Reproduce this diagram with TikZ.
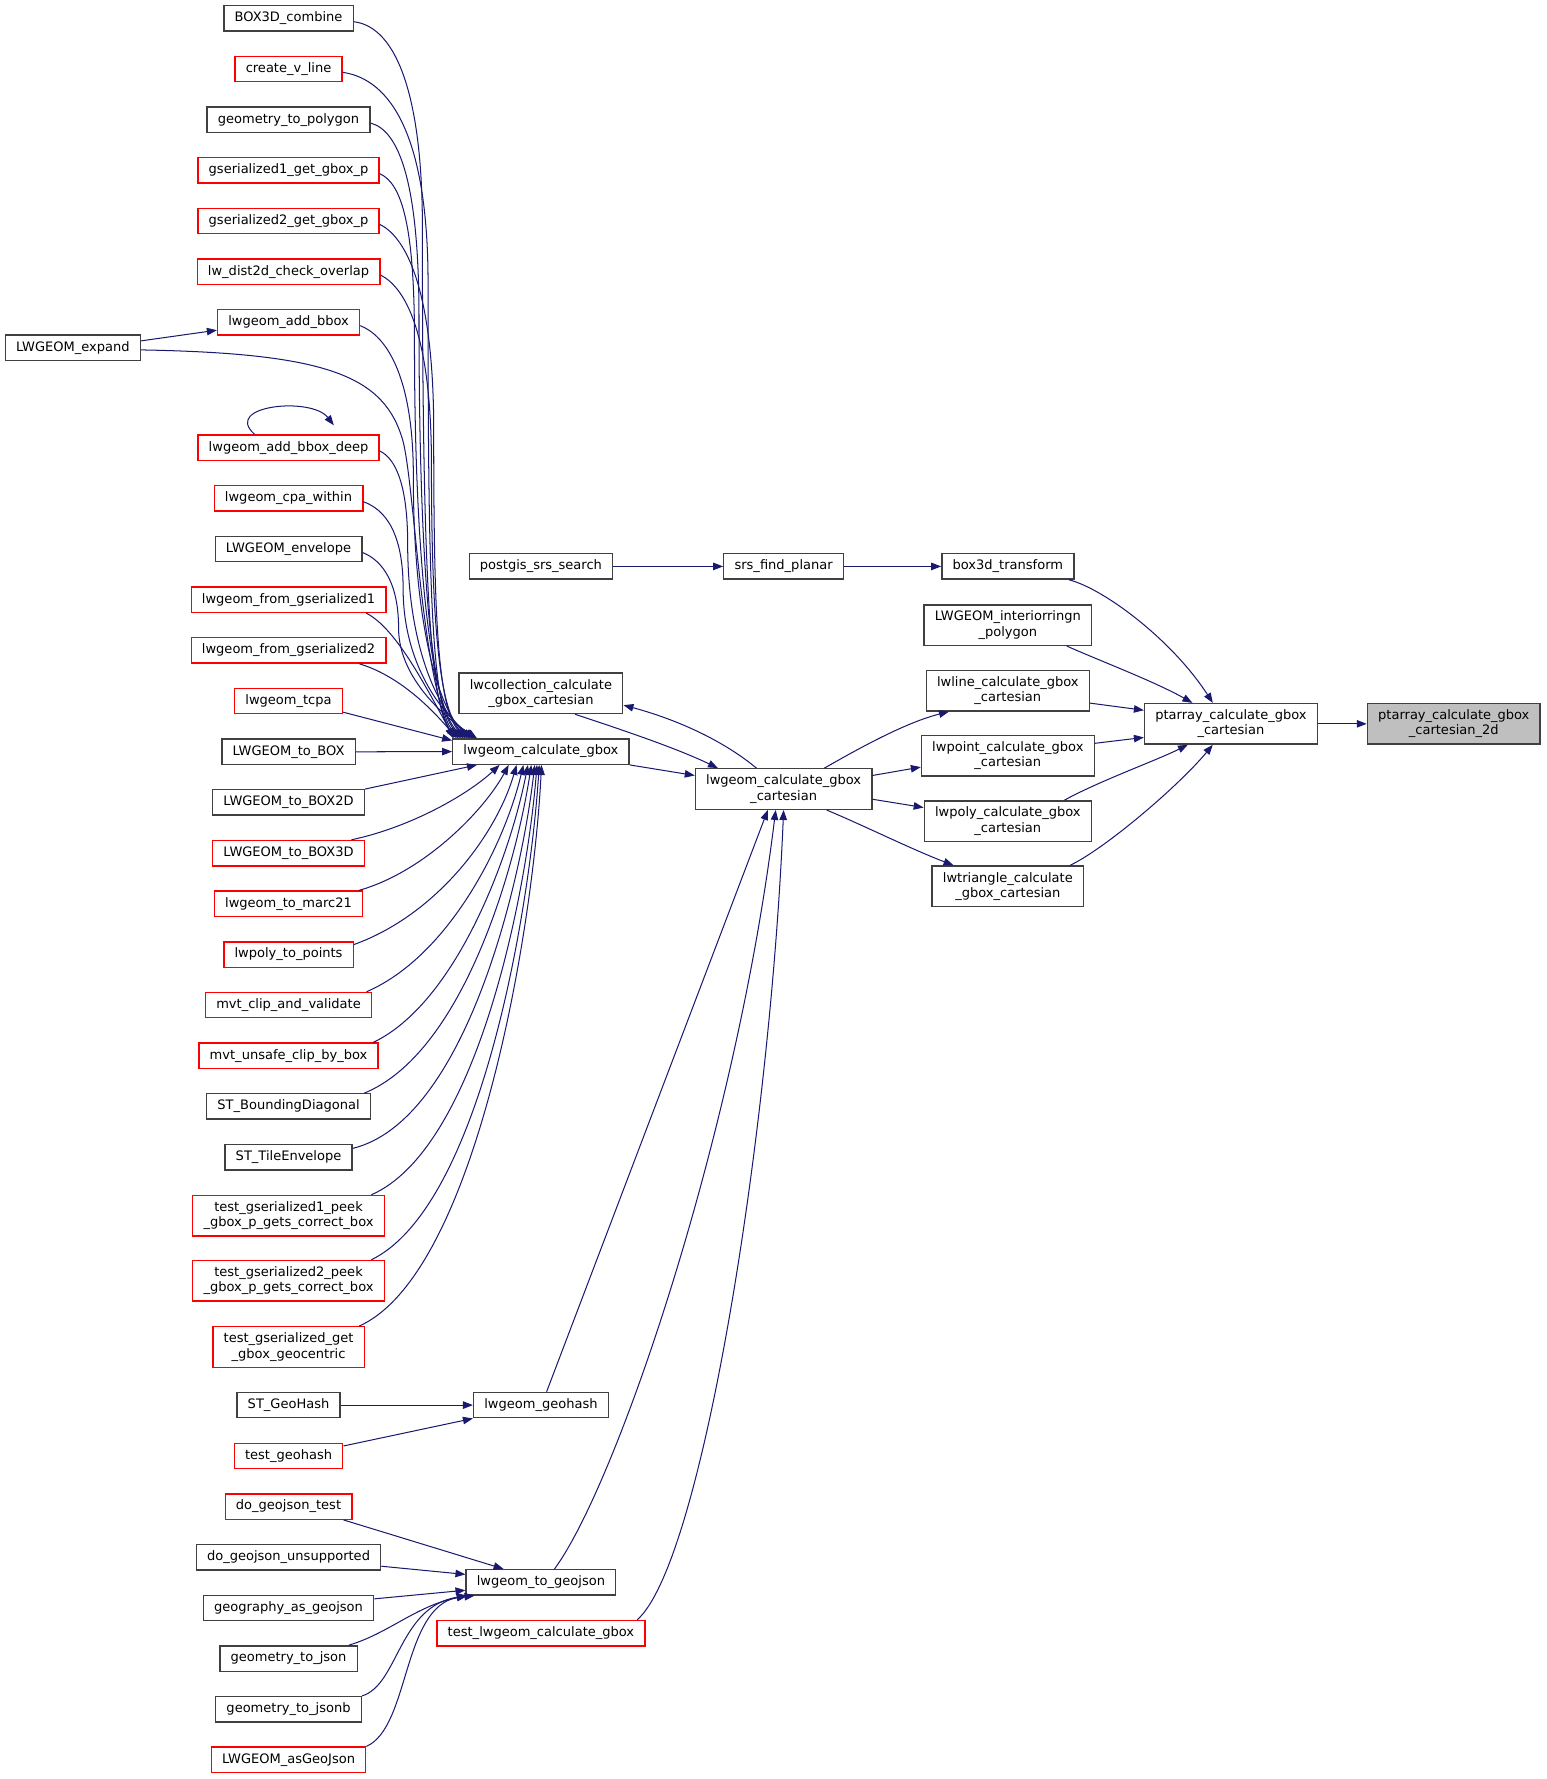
\documentclass[tikz,border=0pt]{standalone}
\usepackage{fontspec}
\setmainfont{DejaVu Sans}
\usetikzlibrary{arrows.meta}
\definecolor{edgeblue}{HTML}{191970}
\definecolor{boxgray}{HTML}{404040}
\definecolor{rootfill}{HTML}{BFBFBF}
\newcommand{\fnfont}{\fontsize{11.5}{13.4}\selectfont}
\tikzset{
	fn/.style={draw=boxgray, line width=1.2pt, fill=white, font=\fnfont, inner xsep=9.5pt, inner ysep=5.6pt, text height=8.6pt, text depth=2.6pt},
	fnred/.style={fn, draw=red},
	fntwo/.style={draw=boxgray, line width=1.2pt, fill=white, font=\fnfont, inner xsep=9.5pt, inner ysep=3pt, minimum height=35.8pt, align=center},
	fntwored/.style={fntwo, draw=red},
	fnroot/.style={fntwo, fill=rootfill},
	call/.style={draw=edgeblue, line width=0.9pt, -{Triangle[length=8.8pt,width=6.6pt]}}
}

\begin{document}
\begin{tikzpicture}[x=1pt, y=-1pt]
		\useasboundingbox (0,0) rectangle (1366,1571);
		% callers of lwgeom_calculate_gbox
		\node[fn] (box3dcomb) at (254.8,16.2) {BOX3D\_combine};
		\node[fnred] (createvline) at (254.8,60.9) {create\_v\_line};
		\node[fn] (geomtopoly) at (254.8,105.7) {geometry\_to\_polygon};
		\node[fnred] (gsergbox1) at (254.8,150.4) {gserialized1\_get\_gbox\_p};
		\node[fnred] (gsergbox2) at (254.8,195.2) {gserialized2\_get\_gbox\_p};
		\node[fnred] (distcheck) at (254.8,239.9) {lw\_dist2d\_check\_overlap};
		\node[fnred] (addbbox) at (254.8,284.6) {lwgeom\_add\_bbox};
		\node[fn] (expand) at (64.4,307) {LWGEOM\_expand};
		\node[fnred] (addbboxdeep) at (254.8,395.3) {lwgeom\_add\_bbox\_deep};
		\node[fnred] (cpawithin) at (254.8,440.1) {lwgeom\_cpa\_within};
		\node[fn] (envelope) at (254.8,484.9) {LWGEOM\_envelope};
		\node[fnred] (fromgser1) at (254.8,529.6) {lwgeom\_from\_gserialized1};
		\node[fnred] (fromgser2) at (254.8,574.4) {lwgeom\_from\_gserialized2};
		\node[fnred] (tcpa) at (254.8,619.1) {lwgeom\_tcpa};
		\node[fn] (tobox) at (254.8,663.9) {LWGEOM\_to\_BOX};
		\node[fn] (tobox2d) at (254.8,708.6) {LWGEOM\_to\_BOX2D};
		\node[fnred] (tobox3d) at (254.8,753.4) {LWGEOM\_to\_BOX3D};
		\node[fnred] (tomarc) at (254.8,798.1) {lwgeom\_to\_marc21};
		\node[fnred] (polypoints) at (254.8,842.9) {lwpoly\_to\_points};
		\node[fnred] (mvtclip) at (254.8,887.6) {mvt\_clip\_and\_validate};
		\node[fnred] (mvtunsafe) at (254.8,932.4) {mvt\_unsafe\_clip\_by\_box};
		\node[fn] (bounddiag) at (254.8,977.1) {ST\_BoundingDiagonal};
		\node[fn] (tileenv) at (254.8,1021.9) {ST\_TileEnvelope};
		\node[fntwored] (testgser1) at (254.8,1073.6) {test\_gserialized1\_peek\\\_gbox\_p\_gets\_correct\_box};
		\node[fntwored] (testgser2) at (254.8,1131) {test\_gserialized2\_peek\\\_gbox\_p\_gets\_correct\_box};
		\node[fntwored] (testgeocent) at (254.8,1189.5) {test\_gserialized\_get\\\_gbox\_geocentric};
		% callers of lwgeom_geohash and lwgeom_to_geojson
		\node[fn] (stgeohash) at (254.8,1240.8) {ST\_GeoHash};
		\node[fnred] (testgeohash) at (254.8,1285.7) {test\_geohash};
		\node[fnred] (dogeojsontest) at (254.8,1330.4) {do\_geojson\_test};
		\node[fn] (dogeojsonunsup) at (254.8,1375.1) {do\_geojson\_unsupported};
		\node[fn] (geogasgeojson) at (254.8,1419.9) {geography\_as\_geojson};
		\node[fn] (geomtojson) at (254.8,1464.6) {geometry\_to\_json};
		\node[fn] (geomtojsonb) at (254.8,1509.4) {geometry\_to\_jsonb};
		\node[fnred] (asgeojson) at (254.8,1554) {LWGEOM\_asGeoJson};
		% middle
		\node[fn] (srssearch) at (477.7,500.2) {postgis\_srs\_search};
		\node[fntwo] (lwcollcart) at (477.7,612.2) {lwcollection\_calculate\\\_gbox\_cartesian};
		\node[fn] (calcgbox) at (477.7,663.7) {lwgeom\_calculate\_gbox};
		\node[fn] (geohash) at (477.7,1240.8) {lwgeom\_geohash};
		\node[fn] (togeojson) at (477.7,1397.3) {lwgeom\_to\_geojson};
		\node[fnred] (testcalcgbox) at (477.7,1442.2) {test\_lwgeom\_calculate\_gbox};
		\node[fn] (srsplanar) at (692,500.2) {srs\_find\_planar};
		\node[fntwo] (calccart) at (692,696.8) {lwgeom\_calculate\_gbox\\\_cartesian};
		\node[fn] (box3dtrans) at (890,500.2) {box3d\_transform};
		\node[fntwo] (interiorring) at (890,552) {LWGEOM\_interiorringn\\\_polygon};
		\node[fntwo] (linecart) at (890,609.9) {lwline\_calculate\_gbox\\\_cartesian};
		\node[fntwo] (pointcart) at (890,667.4) {lwpoint\_calculate\_gbox\\\_cartesian};
		\node[fntwo] (polycart) at (890,725.1) {lwpoly\_calculate\_gbox\\\_cartesian};
		\node[fntwo] (trianglecart) at (890,782.6) {lwtriangle\_calculate\\\_gbox\_cartesian};
		\node[fntwo] (ptarraycart) at (1087,639.2) {ptarray\_calculate\_gbox\\\_cartesian};
		\node[fnroot] (ptarray2d) at (1283.8,639.2) {ptarray\_calculate\_gbox\\\_cartesian\_2d};

		% edges into lwgeom_calculate_gbox from above
		\draw[call] ([yshift=-3pt]box3dcomb.east) .. controls (352,24) and (373,90) .. (373,200) .. controls (373,480) and (378,628) .. ([xshift=6pt]calcgbox.north west);
		\draw[call] ([yshift=-3pt]createvline.east) .. controls (345,70) and (378,120) .. (378,250) .. controls (378,500) and (380,628) .. ([xshift=8pt]calcgbox.north west);
		\draw[call] ([yshift=-3pt]geomtopoly.east) .. controls (352,115) and (370,160) .. (370,280) .. controls (370,510) and (382,628) .. ([xshift=10pt]calcgbox.north west);
		\draw[call] ([yshift=-3pt]gsergbox1.east) .. controls (355,162) and (366,200) .. (366,300) .. controls (366,520) and (384,630) .. ([xshift=12pt]calcgbox.north west);
		\draw[call] ([yshift=-3pt]gsergbox2.east) .. controls (360,210) and (383,260) .. (383,380) .. controls (383,540) and (386,630) .. ([xshift=14pt]calcgbox.north west);
		\draw[call] ([yshift=-3pt]distcheck.east) .. controls (360,255) and (381,300) .. (381,410) .. controls (381,550) and (388,632) .. ([xshift=16pt]calcgbox.north west);
		\draw[call] ([yshift=-3pt]addbbox.east) .. controls (340,296) and (365,330) .. (365,420) .. controls (365,560) and (390,632) .. ([xshift=18pt]calcgbox.north west);
		\draw[call] ([yshift=-3pt]addbboxdeep.east) .. controls (350,405) and (360,430) .. (360,480) .. controls (360,580) and (392,634) .. ([xshift=20pt]calcgbox.north west);
		\draw[call] ([yshift=-3pt]cpawithin.east) .. controls (340,450) and (356,470) .. (356,520) .. controls (356,590) and (394,634) .. ([xshift=21pt]calcgbox.north west);
		\draw[call] ([yshift=-3pt]envelope.east) .. controls (338,495) and (352,515) .. (352,555) .. controls (352,600) and (396,636) .. ([xshift=22pt]calcgbox.north west);
		\draw[call] ([xshift=-18pt]fromgser1.south east) .. controls (350,555) and (375,605) .. ([xshift=2pt]calcgbox.north west);
		\draw[call] ([xshift=-24pt]fromgser2.south east) .. controls (350,596) and (378,622) .. ([xshift=4pt]calcgbox.north west);
		\draw[call] ([yshift=2pt]tcpa.south east) -- ([yshift=-2pt]calcgbox.north west);
		\draw[call] (tobox.east) -- (calcgbox.west);
		\draw[call] (tobox2d.north east) -- ([xshift=22pt]calcgbox.south west);
		\draw[call] ([yshift=6pt]expand.east) -- ([yshift=-7pt]addbbox.west);
		\draw[call] ([yshift=-2pt]expand.east) .. controls (290,312) and (340,332) .. (356,390) .. controls (366,430) and (372,590) .. ([xshift=1pt]calcgbox.north west);
		\draw[call] ([xshift=-30pt]addbboxdeep.north) .. controls (196,358) and (275,350) .. ([xshift=40pt,yshift=8pt]addbboxdeep.north);
		% edges into lwgeom_calculate_gbox from below
		\draw[call] ([xshift=-12pt]tobox3d.north east) .. controls (365,730) and (415,700) .. ([xshift=42pt]calcgbox.south west);
		\draw[call] ([xshift=-4pt]tomarc.north east) .. controls (375,770) and (428,715) .. ([xshift=50pt]calcgbox.south west);
		\draw[call] ([yshift=-3pt]polypoints.north east) .. controls (385,808) and (438,738) .. ([xshift=57pt]calcgbox.south west);
		\draw[call] ([xshift=-5pt]mvtclip.north east) .. controls (395,845) and (445,748) .. ([xshift=63pt]calcgbox.south west);
		\draw[call] ([xshift=-5pt]mvtunsafe.north east) .. controls (402,886) and (450,758) .. ([xshift=67pt]calcgbox.south west);
		\draw[call] ([xshift=-6pt]bounddiag.north east) .. controls (408,930) and (455,768) .. ([xshift=70pt]calcgbox.south west);
		\draw[call] ([yshift=-4pt]tileenv.north east) .. controls (410,990) and (460,782) .. ([xshift=73pt]calcgbox.south west);
		\draw[call] ([xshift=-12pt]testgser1.north east) .. controls (420,1015) and (465,792) .. ([xshift=75pt]calcgbox.south west);
		\draw[call] ([xshift=-12pt]testgser2.north east) .. controls (425,1065) and (468,802) .. ([xshift=77pt]calcgbox.south west);
		\draw[call] ([xshift=-5pt]testgeocent.north east) .. controls (420,1125) and (471,822) .. ([xshift=79pt]calcgbox.south west);
		% geohash / geojson
		\draw[call] (stgeohash.east) -- (geohash.west);
		\draw[call] ([yshift=-3pt]testgeohash.north east) -- (geohash.south west);
		\draw[call] ([xshift=-8pt]dogeojsontest.south east) -- ([xshift=-33pt]togeojson.north);
		\draw[call] ([yshift=-8pt]dogeojsonunsup.east) -- ([yshift=7pt]togeojson.west);
		\draw[call] ([yshift=8pt]geogasgeojson.east) -- ([yshift=-7pt]togeojson.west);
		\draw[call] ([xshift=-8pt]geomtojson.north east) .. controls (345,1442) and (372,1414) .. ([xshift=8pt]togeojson.south west);
		\draw[call] (geomtojsonb.north east) .. controls (352,1488) and (352,1418) .. ([xshift=2pt]togeojson.south west);
		\draw[call] (asgeojson.north east) .. controls (362,1525) and (355,1420) .. ([xshift=1pt]togeojson.south west);
		% into lwgeom_calculate_gbox_cartesian
		\draw[call] (calcgbox.south east) -- ([yshift=12pt]calccart.west);
		\draw[call] ([xshift=30pt]lwcollcart.south) .. controls (560,648) and (600,662) .. ([xshift=-58pt]calccart.north);
		\draw[call] ([xshift=-24pt]calccart.north) .. controls (640,655) and (600,636) .. ([yshift=8pt]lwcollcart.south east);
		\draw[call] ([xshift=5pt]geohash.north) -- ([xshift=-14pt]calccart.south);
		\draw[call] ([xshift=12pt]togeojson.north) .. controls (545,1310) and (650,1000) .. ([xshift=-7pt]calccart.south);
		\draw[call] ([xshift=85pt]testcalcgbox.north) .. controls (620,1380) and (680,1000) .. (calccart.south);
		% out of lwgeom_calculate_gbox_cartesian
		\draw[call] ([xshift=36pt]calccart.north) .. controls (760,660) and (800,638) .. ([xshift=-52pt]linecart.south);
		\draw[call] ([yshift=12pt]calccart.east) -- ([yshift=-10pt]pointcart.west);
		\draw[call] ([yshift=-9pt]calccart.east) -- ([yshift=12pt]polycart.west);
		\draw[call] ([xshift=38pt]calccart.south) .. controls (765,730) and (805,750) .. ([xshift=-48pt]trianglecart.north);
		\draw[call] (srssearch.east) -- (srsplanar.west);
		\draw[call] (srsplanar.east) -- (box3dtrans.west);
		% into ptarray_calculate_gbox_cartesian
		\draw[call] ([xshift=54pt]box3dtrans.south) .. controls (975,520) and (1035,565) .. ([xshift=-16pt]ptarraycart.north);
		\draw[call] ([xshift=52pt]interiorring.south) .. controls (970,583) and (1020,602) .. ([xshift=-34pt]ptarraycart.north);
		\draw[call] ([yshift=-11pt]linecart.east) -- ([yshift=12pt]ptarraycart.west);
		\draw[call] ([yshift=11pt]pointcart.east) -- ([yshift=-12pt]ptarraycart.west);
		\draw[call] ([xshift=50pt]polycart.north) .. controls (970,690) and (1020,672) .. ([xshift=-38pt]ptarraycart.south);
		\draw[call] ([xshift=55pt]trianglecart.north) .. controls (975,750) and (1040,695) .. ([xshift=-16pt]ptarraycart.south);
		\draw[call] (ptarraycart.east) -- (ptarray2d.west);
	\end{tikzpicture}
\end{document}
